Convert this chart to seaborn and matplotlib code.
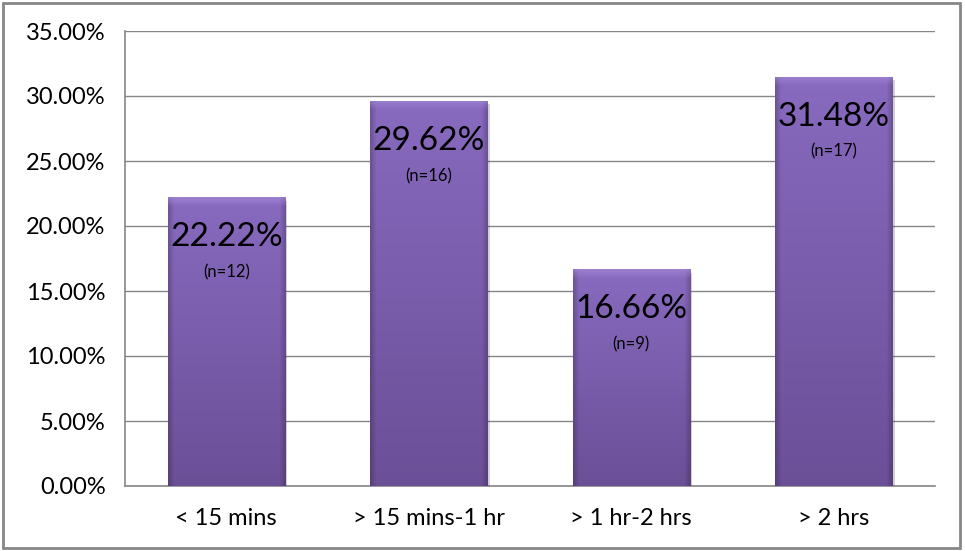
import numpy as np
import pandas as pd
import matplotlib
matplotlib.use('Agg')
import matplotlib.pyplot as plt
import matplotlib.patheffects as pe
from matplotlib.patches import Rectangle
from matplotlib.ticker import PercentFormatter
import seaborn as sns

# Data
categories = ['< 15 mins', '> 15 mins-1 hr', '> 1 hr-2 hrs', '> 2 hrs']
shares = [0.2222, 0.2962, 0.1666, 0.3148]
counts = [12, 16, 9, 17]
pct_labels = ['22.22%', '29.62%', '16.66%', '31.48%']

df = pd.DataFrame({'time': categories, 'share': shares})

sns.set_style('white')
plt.rcParams['font.family'] = ['Lato', 'DejaVu Sans']

fig = plt.figure(figsize=(9.65, 5.51), dpi=100)
ax = fig.add_axes([125 / 965, 65 / 551, 810 / 965, 455 / 551])

sns.barplot(data=df, x='time', y='share', color='#7a5cad', width=0.58,
            saturation=1, ax=ax, zorder=3)

ax.set_ylim(0, 0.35)
ax.set_xlim(-0.5, 3.5)
ax.set_yticks(np.arange(0, 0.351, 0.05))
ax.yaxis.set_major_formatter(PercentFormatter(1.0, decimals=2))
ax.grid(axis='y', color='#868686', linewidth=1, zorder=0)
ax.set_xlabel('')
ax.set_ylabel('')
for side in ['top', 'right']:
    ax.spines[side].set_visible(False)
for side in ['left', 'bottom']:
    ax.spines[side].set_color('#868686')
    ax.spines[side].set_linewidth(1.2)
ax.tick_params(axis='both', length=0, labelsize=17, colors='black')
ax.tick_params(axis='x', pad=16)
ax.tick_params(axis='y', pad=14)

# bevelled gradient fill for each bar
def bar_gradient(nrows, ncols):
    top = np.array([0x88, 0x6a, 0xbf]) / 255
    bottom = np.array([0x6b, 0x4f, 0x97]) / 255
    t = np.linspace(0, 1, nrows)[:, None, None]
    base = bottom * (1 - t) + top * t
    xs = np.linspace(0, 1, ncols)
    edge = np.minimum(xs, 1 - xs) * ncols
    shade = 0.80 + 0.20 * np.clip(edge / 6, 0, 1)
    img = base * shade[None, :, None]
    # lighter bevel at the very top (last rows, origin lower)
    rows_px = np.arange(nrows)[::-1]
    bevel = np.clip(1 - rows_px / 9, 0, 1)[:, None, None]
    light = np.array([0xa8, 0x8e, 0xdc]) / 255
    img = img * (1 - 0.6 * bevel) + light * 0.6 * bevel
    return np.clip(img, 0, 1)

for patch, n, lab in zip(ax.patches, counts, pct_labels):
    x0, w, h = patch.get_x(), patch.get_width(), patch.get_height()
    nrows = max(int(h / 0.35 * 455), 2)
    ncols = max(int(w / 4 * 810), 2)
    img = bar_gradient(nrows, ncols)
    im = ax.imshow(img, extent=(x0, x0 + w, 0, h), origin='lower',
                   aspect='auto', zorder=3.5, interpolation='bilinear')
    im.set_clip_path(patch)
    patch.set_edgecolor('#4f3676')
    patch.set_linewidth(0.6)
    patch.set_path_effects([pe.SimplePatchShadow(offset=(1.5, -2.5), alpha=0.2), pe.Normal()])
    ax.annotate(lab, (x0 + w / 2, h), xytext=(0, -40), textcoords='offset pixels',
                ha='center', va='center', fontsize=24, color='black', zorder=5)
    ax.annotate(f'(n={n})', (x0 + w / 2, h), xytext=(0, -75), textcoords='offset pixels',
                ha='center', va='center', fontsize=12, color='black', zorder=5)

ax.set_xlim(-0.5, 3.5)
ax.set_ylim(0, 0.35)

# outer chart border
fig.patches.append(Rectangle((3 / 965, 3 / 551), 957 / 965, 545 / 551,
                             transform=fig.transFigure, fill=False,
                             edgecolor='#868686', linewidth=2))

fig.savefig('out.png', dpi=100)
